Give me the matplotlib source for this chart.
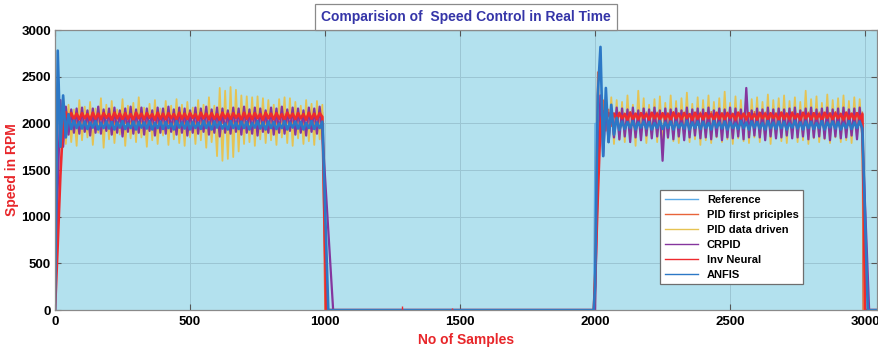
import numpy as np
import matplotlib.pyplot as plt

# samples are logged every 10 steps while the motor is running
step = 10
run1_start, run2_start = 0, 2000
x_end = 3045

series_names = ["Reference", "PID first priciples", "PID data driven",
                "CRPID", "Inv Neural", "ANFIS"]

# reference speed profile (breakpoints)
ref_x = [0, 0, 995, 1000, 1995, 2000, 2990, 2995, 3045]
ref_y = [0, 2000, 2000, 0, 0, 2000, 2000, 0, 0]

# PID first principles
pid_fp_run1 = [
    0, 2380, 1900, 2200, 1950, 2130, 1980, 2110, 1990, 2120,
    1990, 2110, 1985, 2120, 2000, 2100, 1985, 2115, 1995, 2120,
    1980, 2110, 1990, 2125, 1985, 2105, 2000, 2115, 1980, 2120,
    1995, 2110, 1985, 2120, 1990, 2100, 1980, 2115, 2000, 2120,
    1985, 2110, 1995, 2125, 1980, 2105, 1990, 2115, 1985, 2120,
    2000, 2110, 1980, 2120, 1995, 2100, 1985, 2115, 1990, 2125,
    1980, 2110, 2000, 2120, 1985, 2105, 1995, 2115, 1980, 2120,
    1990, 2110, 1985, 2125, 2000, 2100, 1980, 2115, 1995, 2120,
    1985, 2110, 1990, 2120, 1980, 2105, 2000, 2115, 1985, 2125,
    1995, 2110, 1980, 2120, 1990, 2100, 1985, 2115, 2000, 2120,
]
pid_fp_run2 = [
    500, 2550, 1850, 2250, 1920, 2150, 1970, 2110, 1990, 2120,
    1985, 2110, 1995, 2125, 1980, 2105, 1990, 2115, 1985, 2120,
    2000, 2110, 1980, 2120, 1995, 2100, 1985, 2115, 1990, 2125,
    1980, 2110, 2000, 2120, 1985, 2105, 1995, 2115, 1980, 2120,
    1990, 2110, 1985, 2125, 2000, 2100, 1980, 2115, 1995, 2120,
    1985, 2110, 1990, 2120, 1980, 2105, 2000, 2115, 1985, 2125,
    1995, 2110, 1980, 2120, 1990, 2100, 1985, 2115, 2000, 2120,
    1980, 2110, 1995, 2125, 1985, 2105, 1990, 2115, 1980, 2120,
    2000, 2110, 1985, 2120, 1995, 2100, 1980, 2115, 1990, 2125,
    1985, 2110, 2000, 2120, 1980, 2105, 1995, 2115, 1985, 2120,
]

# PID data driven
pid_dd_run1 = [
    0, 2200, 2050, 2280, 1780, 2200, 1800, 2150, 1760, 2250,
    1820, 2180, 1850, 2230, 1770, 2160, 1900, 2270, 1740, 2200,
    1830, 2240, 1790, 2150, 1880, 2260, 1760, 2190, 1840, 2220,
    1800, 2280, 1850, 2170, 1750, 2210, 1820, 2250, 1780, 2160,
    1870, 2240, 1770, 2190, 1830, 2260, 1790, 2200, 1760, 2230,
    1850, 2170, 1780, 2250, 1820, 2200, 1740, 2280, 1800, 2190,
    1650, 2380, 1600, 2350, 1620, 2390, 1640, 2360, 1700, 2300,
    1780, 2290, 1800, 2280, 1760, 2290, 1830, 2270, 1790, 2250,
    1820, 2200, 1770, 2260, 1850, 2280, 1790, 2270, 1760, 2230,
    1840, 2190, 1780, 2250, 1810, 2210, 1770, 2240, 1830, 2200,
]
pid_dd_run2 = [
    0, 2000, 2250, 1750, 2300, 1800, 2280, 1780, 2250, 1820,
    2230, 1800, 2300, 1850, 2200, 1760, 2350, 1830, 2270, 1790,
    2200, 1850, 2260, 1800, 2290, 1780, 2220, 1840, 2300, 1810,
    2240, 1790, 2270, 1850, 2330, 1800, 2210, 1830, 2280, 1770,
    2250, 1820, 2300, 1790, 2230, 1850, 2270, 1800, 2340, 1830,
    2220, 1780, 2290, 1840, 2250, 1810, 2300, 1790, 2260, 1850,
    2280, 1800, 2230, 1830, 2310, 1780, 2250, 1840, 2270, 1810,
    2300, 1790, 2240, 1850, 2280, 1800, 2230, 1820, 2350, 1780,
    2260, 1840, 2290, 1800, 2220, 1830, 2310, 1790, 2250, 1850,
    2270, 1800, 2300, 1820, 2240, 1790, 2280, 1840, 2260, 1810,
]

# CRPID
crpid_run1 = [
    0, 1300, 2250, 1750, 2180, 1880, 2150, 1900, 2160, 1890,
    2170, 1910, 2140, 1870, 2160, 1900, 2180, 1890, 2150, 1920,
    2160, 1880, 2170, 1900, 2140, 1860, 2160, 1910, 2180, 1890,
    2150, 1900, 2170, 1880, 2160, 1920, 2140, 1870, 2170, 1900,
    2160, 1890, 2180, 1910, 2150, 1880, 2170, 1900, 2160, 1870,
    2140, 1900, 2170, 1890, 2160, 1910, 2180, 1880, 2150, 1900,
    2170, 1860, 2160, 1900, 2140, 1890, 2170, 1910, 2160, 1880,
    2180, 1900, 2150, 1890, 2170, 1870, 2160, 1910, 2140, 1900,
    2170, 1880, 2160, 1900, 2180, 1890, 2150, 1920, 2170, 1880,
    2160, 1900, 2140, 1870, 2170, 1910, 2160, 1890, 2180, 1900,
]
crpid_run2 = [
    0, 1500, 2300, 1650, 2200, 1800, 2150, 1850, 2170, 1830,
    2160, 1860, 2150, 1800, 2170, 1850, 2140, 1820, 2160, 1870,
    2150, 1840, 2170, 1860, 2140, 1600, 2160, 1850, 2150, 1830,
    2160, 1860, 2140, 1820, 2170, 1850, 2150, 1870, 2160, 1840,
    2150, 1850, 2170, 1830, 2140, 1860, 2160, 1820, 2150, 1850,
    2170, 1840, 2160, 1860, 2150, 1830, 2380, 1850, 2140, 1870,
    2160, 1850, 2150, 1820, 2170, 1860, 2150, 1840, 2160, 1850,
    2150, 1870, 2160, 1840, 2170, 1850, 2140, 1860, 2160, 1830,
    2170, 1850, 2150, 1860, 2160, 1840, 2170, 1820, 2150, 1860,
    2160, 1840, 2170, 1850, 2150, 1870, 2160, 1830, 2170, 1860,
]

# Inverse neural controller
inv_nn_run1 = [
    0, 700, 1450, 2000, 2120, 2040, 2110, 2050, 2105, 2045,
    2110, 2055, 2100, 2040, 2115, 2050, 2105, 2045, 2110, 2060,
    2100, 2040, 2115, 2055, 2105, 2045, 2110, 2050, 2100, 2040,
    2115, 2055, 2105, 2045, 2110, 2060, 2100, 2040, 2115, 2050,
    2105, 2045, 2110, 2055, 2100, 2040, 2115, 2050, 2105, 2045,
    2110, 2060, 2100, 2040, 2115, 2055, 2105, 2045, 2110, 2050,
    2100, 2040, 2115, 2055, 2105, 2045, 2110, 2060, 2100, 2040,
    2115, 2050, 2105, 2045, 2110, 2055, 2100, 2040, 2115, 2055,
    2105, 2045, 2110, 2050, 2100, 2040, 2115, 2060, 2105, 2045,
    2110, 2055, 2100, 2040, 2115, 2050, 2105, 2045, 2110, 2070,
]
inv_nn_run2 = [
    300, 1200, 2000, 2130, 2040, 2110, 2050, 2105, 2045, 2110,
    2055, 2100, 2040, 2115, 2050, 2105, 2045, 2110, 2060, 2100,
    2040, 2115, 2055, 2105, 2045, 2110, 2050, 2100, 2040, 2115,
    2055, 2105, 2045, 2110, 2060, 2100, 2040, 2115, 2050, 2105,
    2045, 2110, 2055, 2100, 2040, 2115, 2050, 2105, 2045, 2110,
    2060, 2100, 2040, 2115, 2055, 2105, 2045, 2110, 2050, 2100,
    2040, 2115, 2055, 2105, 2045, 2110, 2060, 2100, 2040, 2115,
    2050, 2105, 2045, 2110, 2055, 2100, 2040, 2115, 2055, 2105,
    2045, 2110, 2050, 2100, 2040, 2115, 2060, 2105, 2045, 2110,
    2055, 2100, 2040, 2115, 2050, 2105, 2045, 2110, 2050, 2100,
]
# small blips while the motor is stopped
inv_nn_blip_x = [1285, 1472]
inv_nn_blip_y = [45, 25]

# ANFIS
anfis_run1 = [
    0, 2780, 1750, 2300, 1850, 2100, 1940, 2030, 1950, 2015,
    1945, 2020, 1940, 2010, 1955, 2025, 1935, 2005, 1950, 2020,
    1945, 2015, 1935, 2010, 1955, 2025, 1940, 2000, 1950, 2020,
    1935, 2015, 1955, 2010, 1945, 2025, 1935, 2005, 1950, 2020,
    1940, 2015, 1950, 2000, 1935, 2025, 1955, 2010, 1945, 2020,
    1935, 2015, 1950, 2005, 1940, 2025, 1950, 2010, 1935, 2020,
    1955, 2015, 1945, 2000, 1935, 2025, 1950, 2010, 1940, 2020,
    1950, 2015, 1935, 2005, 1955, 2025, 1945, 2010, 1935, 2020,
    1950, 2015, 1940, 2000, 1950, 2025, 1935, 2010, 1955, 2020,
    1945, 2015, 1935, 2005, 1950, 2025, 1940, 2010, 1950, 2020,
]
anfis_run2 = [
    250, 2300, 2820, 1650, 2380, 1800, 2200, 1880, 2060, 1930,
    2020, 1940, 2015, 1950, 2025, 1935, 2010, 1955, 2020, 1945,
    2015, 1935, 2005, 1950, 2025, 1940, 2010, 1950, 2020, 1935,
    2015, 1955, 2000, 1945, 2025, 1935, 2010, 1950, 2020, 1940,
    2015, 1950, 2005, 1935, 2025, 1955, 2010, 1945, 2020, 1935,
    2015, 1950, 2000, 1940, 2025, 1950, 2010, 1935, 2020, 1955,
    2015, 1945, 2005, 1935, 2025, 1950, 2010, 1940, 2020, 1950,
    2015, 1935, 2000, 1955, 2025, 1945, 2010, 1935, 2020, 1950,
    2015, 1940, 2005, 1950, 2025, 1935, 2010, 1955, 2020, 1945,
    2015, 1935, 2000, 1950, 2025, 1940, 2010, 1950, 2020, 1945,
]

# where each controller reaches zero after the stop command
stop1_x = {"PID first priciples": 1000, "PID data driven": 1005,
           "CRPID": 1030, "Inv Neural": 1005, "ANFIS": 1012}
stop2_x = {"PID first priciples": 2993, "PID data driven": 2998,
           "CRPID": 3015, "Inv Neural": 3000, "ANFIS": 3010}

runs = {
    "PID first priciples": (pid_fp_run1, pid_fp_run2),
    "PID data driven": (pid_dd_run1, pid_dd_run2),
    "CRPID": (crpid_run1, crpid_run2),
    "Inv Neural": (inv_nn_run1, inv_nn_run2),
    "ANFIS": (anfis_run1, anfis_run2),
}

colors = {
    "Reference": "#5AAAE6",
    "PID first priciples": "#E8643A",
    "PID data driven": "#E6C352",
    "CRPID": "#85359E",
    "Inv Neural": "#EE2A2E",
    "ANFIS": "#2C78C6",
}
widths = {"PID first priciples": 1.2, "PID data driven": 1.3,
          "CRPID": 1.6, "Inv Neural": 1.9, "ANFIS": 1.9}


def build_trace(name):
    r1, r2 = runs[name]
    x1 = run1_start + step * np.arange(len(r1))
    x2 = run2_start + step * np.arange(len(r2))
    x = np.concatenate([x1, [stop1_x[name], run2_start - 5], x2,
                        [stop2_x[name], x_end]])
    y = np.concatenate([r1, [0, 0], r2, [0, 0]])
    return x, y


bg = "#B3E1EE"
font = "Liberation Sans"
fig = plt.figure(figsize=(8.79, 3.5), dpi=100)
ax = fig.add_axes([0.0626, 0.114, 0.9354, 0.80])
ax.set_facecolor(bg)

ax.plot(ref_x, ref_y, color=colors["Reference"], lw=1.0, label="Reference")
for name in series_names[1:]:
    x, y = build_trace(name)
    ax.plot(x, y, color=colors[name], lw=widths[name], label=name)
ax.vlines(inv_nn_blip_x, 0, inv_nn_blip_y, color=colors["Inv Neural"], lw=1.0)

ax.set_xlim(0, x_end)
ax.set_ylim(0, 3000)
ax.set_xticks(np.arange(0, 3001, 500))
ax.set_yticks(np.arange(0, 3001, 500))
ax.grid(True, color="#9BC5D3", lw=0.7)
ax.set_axisbelow(True)
ax.tick_params(direction="in", top=True, right=True, length=4,
               color="#555555", labelsize=9.5, pad=4)
ax.tick_params(axis="y", pad=3)
for lab in ax.get_xticklabels() + ax.get_yticklabels():
    lab.set_fontweight("bold")
    lab.set_family(font)
for sp in ax.spines.values():
    sp.set_color("#8A8A8A")
    sp.set_linewidth(0.9)

ax.set_xlabel("No of Samples", color="#E8262A", fontsize=10,
              fontweight="bold", family=font, labelpad=4)
ax.set_ylabel("Speed in RPM", color="#E8262A", fontsize=10,
              fontweight="bold", family=font)
ax.yaxis.set_label_coords(-0.044, 0.5)

ax.text(0.5, 1.047, "Comparision of  Speed Control in Real Time",
        transform=ax.transAxes, ha="center", va="center", color="#3535A8",
        fontsize=10, fontweight="bold", family=font,
        bbox=dict(facecolor="white", edgecolor="#8A8A8A", lw=0.9,
                  boxstyle="square,pad=0.45"))

leg = ax.legend(loc="lower left", bbox_to_anchor=(0.736, 0.093),
                handlelength=3.0, labelspacing=0.45,
                borderaxespad=0, fancybox=False, framealpha=1,
                edgecolor="#6E6E6E",
                prop={"family": font, "weight": "bold", "size": 8})
leg.get_frame().set_linewidth(0.9)
for line in leg.get_lines():
    line.set_linewidth(1.0)

fig.savefig("out.png", dpi=100)
